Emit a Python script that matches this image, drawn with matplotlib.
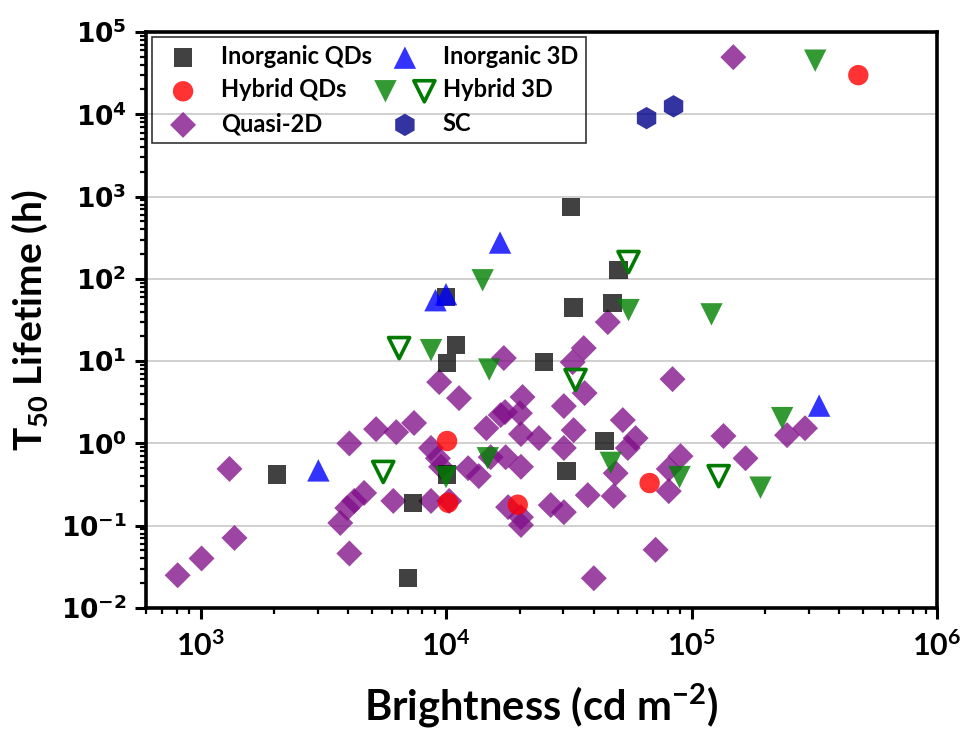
import numpy as np
import matplotlib
matplotlib.use("Agg")
import matplotlib.pyplot as plt
from matplotlib.ticker import LogLocator, NullFormatter
from matplotlib.legend_handler import HandlerTuple

plt.rcParams["mathtext.fontset"] = "custom"
plt.rcParams["mathtext.rm"] = "Lato"
plt.rcParams["mathtext.bf"] = "Lato:bold"
plt.rcParams["mathtext.it"] = "Lato:italic"

# ---- data (brightness in cd m-2, T50 in h) ----
inorg_qd_x = [2055, 7340, 7020, 10100, 11000, 10000, 25000, 33100, 32200, 50500, 47700, 44200, 31000, 10100]
inorg_qd_y = [0.42, 0.19, 0.023, 9.5, 15.6, 60, 9.7, 45, 743, 128, 51, 1.07, 0.46, 0.42]

hybrid_qd_x = [478000, 10100, 10200, 19600, 67500]
hybrid_qd_y = [29900, 1.07, 0.19, 0.18, 0.33]

inorg_3d_x = [3020, 9060, 10000, 16600, 331000]
inorg_3d_y = [0.47, 55, 65, 276, 2.88]

hybrid_3d_x = [319000, 14100, 8690, 15000, 55400, 120600, 234000, 191000, 89400, 46900, 14800, 10000]
hybrid_3d_y = [44800, 96, 13.6, 7.9, 41.7, 37, 2.03, 0.29, 0.39, 0.58, 0.66, 0.39]

hybrid_3d_open_x = [6440, 5550, 33700, 55400, 129000]
hybrid_3d_open_y = [14.4, 0.45, 5.9, 160, 0.40]

sc_x = [65600, 84500]
sc_y = [8980, 12500]

quasi_x = [807, 1010, 1375, 1312, 4040, 5190, 6270, 7410, 4640, 4230,
           3960, 3710, 4040, 6100, 8690, 10300, 9380, 11300, 8690, 9270,
           9550, 12300, 13600, 17200, 36400, 32800, 36700, 30200, 20500, 17400,
           20000, 14600, 16700, 20200, 23900, 33100, 30200, 52500, 59200, 55000,
           83700, 15200, 17500, 20200, 17900, 20200, 20200, 26700, 30200, 37800,
           48200, 49100, 80800, 90200, 80800, 71400, 40000, 45600, 148000, 135000,
           166000, 245000, 290000]
quasi_y = [0.025, 0.040, 0.071, 0.49, 1.0, 1.49, 1.37, 1.77, 0.25, 0.20,
           0.164, 0.108, 0.046, 0.20, 0.20, 0.20, 5.56, 3.55, 0.88, 0.66,
           0.52, 0.50, 0.40, 10.9, 14.4, 9.7, 4.09, 2.84, 3.66, 2.40,
           2.33, 1.53, 2.21, 1.30, 1.16, 1.45, 0.88, 1.92, 1.16, 0.88,
           6.04, 0.68, 0.68, 0.52, 0.168, 0.127, 0.102, 0.178, 0.146, 0.235,
           0.229, 0.435, 0.263, 0.70, 0.49, 0.051, 0.023, 29.8, 49400, 1.23,
           0.66, 1.26, 1.53]

fig = plt.figure(figsize=(9.64, 7.35), dpi=100)
ax = fig.add_axes([0.1515, 0.1728, 0.8205, 0.7837])

alpha = 0.8
h_q2d = ax.scatter(quasi_x, quasi_y, marker="D", s=175, color="#80108a", alpha=0.78,
                   edgecolors="none", zorder=3)
h_iqd = ax.scatter(inorg_qd_x, inorg_qd_y, marker="s", s=175, color="#111111", alpha=alpha,
                   edgecolors="none", zorder=3)
h_hqd = ax.scatter(hybrid_qd_x, hybrid_qd_y, marker="o", s=215, color="#ff0000", alpha=alpha,
                   edgecolors="none", zorder=3)
h_i3d = ax.scatter(inorg_3d_x, inorg_3d_y, marker="^", s=260, color="#0000ff", alpha=alpha,
                   edgecolors="none", zorder=3)
h_h3d = ax.scatter(hybrid_3d_x, hybrid_3d_y, marker="v", s=260, color="#008000", alpha=alpha,
                   edgecolors="none", zorder=3)
h_h3o = ax.scatter(hybrid_3d_open_x, hybrid_3d_open_y, marker="v", s=230, facecolors="none",
                   edgecolors="#007a00", linewidths=2.6, zorder=3)
h_sc = ax.scatter(sc_x, sc_y, marker="h", s=260, color="#00008b", alpha=alpha,
                  edgecolors="none", zorder=3)

ax.set_xscale("log")
ax.set_yscale("log")
ax.set_xlim(600, 1e6)
ax.set_ylim(1e-2, 1e5)

yt = [10.0 ** k for k in range(-2, 6)]
ax.set_yticks(yt)
ax.set_yticklabels([r"$\mathbf{10^{%d}}$" % k for k in range(-2, 6)],
                   fontsize=19, math_fontfamily="dejavusans")
xt = [10.0 ** k for k in range(3, 7)]
ax.set_xticks(xt)
ax.set_xticklabels([r"$\mathbf{10^{%d}}$" % k for k in range(3, 7)], fontsize=22)
ax.xaxis.set_minor_locator(LogLocator(base=10, subs=np.arange(2, 10), numticks=100))
ax.yaxis.set_minor_locator(LogLocator(base=10, subs=np.arange(2, 10), numticks=100))
ax.xaxis.set_minor_formatter(NullFormatter())
ax.yaxis.set_minor_formatter(NullFormatter())

ax.tick_params(which="major", direction="out", length=8, width=2.2, pad=6)
ax.tick_params(axis="x", which="major", pad=9)
ax.tick_params(which="minor", direction="out", length=4.5, width=1.6)
ax.tick_params(top=False, right=False, which="both")
for sp in ax.spines.values():
    sp.set_linewidth(2.6)

ax.yaxis.grid(True, which="major", color="#c8c8c8", linewidth=1.2, zorder=0)
ax.set_axisbelow(True)

ax.set_xlabel(r"Brightness (cd m$^{\mathbf{-2}}$)", fontsize=30, fontweight="bold",
              family="Lato", labelpad=14)
ax.set_ylabel(r"T$_{\mathbf{50}}$ Lifetime (h)", fontsize=28, fontweight="bold",
              family="Lato", labelpad=8)

leg = ax.legend([h_iqd, h_hqd, h_q2d, h_i3d, (h_h3d, h_h3o), h_sc],
                ["Inorganic QDs", "Hybrid QDs", "Quasi-2D", "Inorganic 3D", "Hybrid 3D", "SC"],
                handler_map={tuple: HandlerTuple(ndivide=None, pad=1.4)},
                ncol=2, loc="upper left", bbox_to_anchor=(0.008, 0.992),
                borderaxespad=0.0,
                prop=dict(family="Lato", weight="bold", size=17),
                frameon=True, fancybox=False, edgecolor="black", facecolor="none",
                handlelength=1.9, handletextpad=0.65, columnspacing=0.45,
                labelspacing=0.45, borderpad=0.35, scatterpoints=1)
leg.get_frame().set_linewidth(1.2)

fig.savefig("out.png", dpi=100)
